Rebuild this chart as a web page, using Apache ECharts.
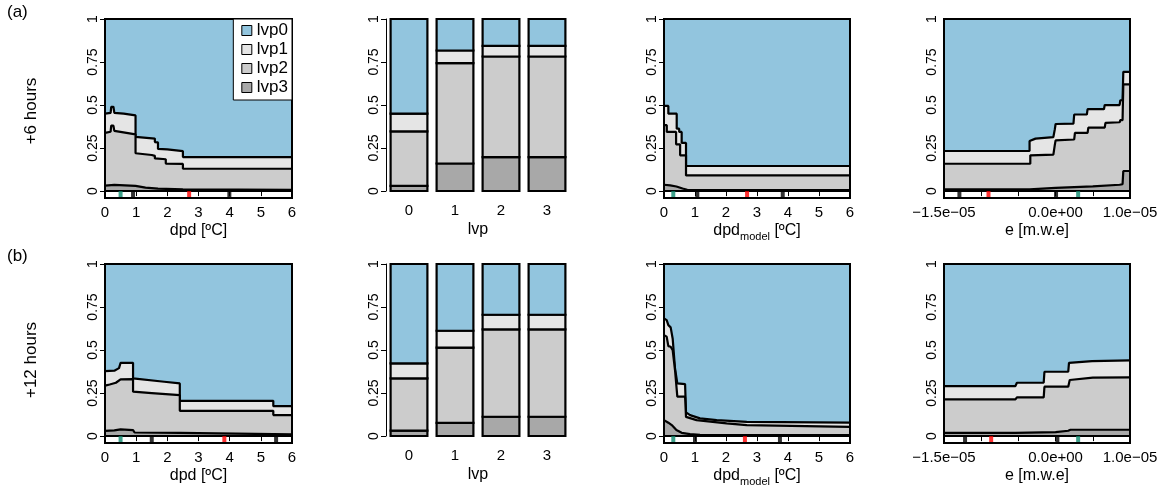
<!DOCTYPE html>
<html><head><meta charset="utf-8">
<script src="https://cdn.jsdelivr.net/npm/echarts@6/dist/echarts.min.js"></script>
<style>html,body{margin:0;padding:0;background:#fff}#c{width:1171px;height:488px}</style>
</head><body><div id="c"></div>
<script>
// ---------------- DATA ----------------
// Cumulative class boundaries (bottom: lvp3, then lvp2, lvp1, top: lvp0)
// cum3 = P(lvp3), cum2 = P(lvp3)+P(lvp2), cum1 = P(lvp3)+P(lvp2)+P(lvp1)
const yTicks = [0, 0.25, 0.5, 0.75, 1];
const lvpCategories = ['0', '1', '2', '3'];
const eTickLabels = ['\u22121.5e\u221205', '', '', '0.0e+00', '', '1.0e\u221205']; // e axis in units of 1e-5

// +6 hours, dpd
const h6_dpd_cum1 = [[0,0.45],[0.18,0.455],[0.2,0.49],[0.27,0.49],[0.3,0.455],[0.6,0.45],[0.98,0.44],[0.98,0.315],[1.6,0.305],[1.6,0.285],[1.7,0.283],[1.7,0.245],[2.0,0.243],[2.0,0.235],[2.5,0.232],[2.5,0.198],[6,0.198]];
const h6_dpd_cum2 = [[0,0.338],[0.18,0.345],[0.2,0.38],[0.27,0.38],[0.3,0.35],[0.98,0.33],[0.98,0.22],[1.5,0.21],[1.6,0.205],[1.6,0.19],[1.95,0.185],[1.95,0.16],[2.5,0.158],[2.5,0.13],[6,0.13]];
const h6_dpd_cum3 = [[0,0.032],[0.3,0.036],[0.98,0.03],[1.3,0.02],[1.7,0.014],[2.5,0.01],[6,0.008]];
const h6_dpd_quant = [0.9, 3.99];
const h6_dpd_mean = [2.7];
const h6_dpd_obs = [0.5];

// +6 hours, lvp (bars)
const h6_lvp_p0 = [0.55, 0.183, 0.156, 0.156];
const h6_lvp_p1 = [0.103, 0.074, 0.062, 0.062];
const h6_lvp_p2 = [0.317, 0.583, 0.585, 0.585];
const h6_lvp_p3 = [0.03, 0.16, 0.197, 0.197];

// +6 hours, dpd_model
const h6_dpdm_cum1 = [[0,0.495],[0.14,0.495],[0.14,0.45],[0.41,0.45],[0.41,0.363],[0.49,0.363],[0.49,0.344],[0.57,0.344],[0.57,0.28],[0.71,0.28],[0.71,0.146],[6,0.146]];
const h6_dpdm_cum2 = [[0,0.383],[0.09,0.383],[0.09,0.344],[0.39,0.344],[0.39,0.272],[0.52,0.272],[0.52,0.208],[0.71,0.208],[0.71,0.091],[6,0.091]];
const h6_dpdm_cum3 = [[0,0.037],[0.2,0.033],[0.4,0.027],[0.6,0.015],[0.75,0.008],[6,0.006]];
const h6_dpdm_quant = [1.075, 3.83];
const h6_dpdm_mean = [2.68];
const h6_dpdm_obs = [0.3];

// +6 hours, e (x in units of 1e-5 m.w.e)
const h6_e_cum1 = [[-1.5,0.233],[-0.35,0.233],[-0.35,0.291],[-0.27,0.305],[-0.27,0.314],[-0.03,0.314],[-0.01,0.36],[0.0,0.39],[0.24,0.392],[0.25,0.445],[0.42,0.445],[0.43,0.476],[0.65,0.476],[0.66,0.5],[0.86,0.5],[0.87,0.528],[0.9,0.528],[0.91,0.693],[1.0,0.693]];
const h6_e_cum2 = [[-1.5,0.159],[-0.34,0.159],[-0.34,0.208],[-0.03,0.212],[-0.01,0.27],[0.0,0.295],[0.25,0.3],[0.26,0.338],[0.43,0.338],[0.44,0.369],[0.66,0.369],[0.67,0.396],[0.86,0.4],[0.87,0.412],[0.9,0.412],[0.91,0.62],[1.0,0.62]];
const h6_e_cum3 = [[-1.5,0.01],[-0.35,0.01],[0.0,0.019],[0.5,0.027],[0.86,0.037],[0.9,0.04],[0.91,0.117],[1.0,0.117]];
const h6_e_quant = [-1.293, 0.006];
const h6_e_mean = [-0.902];
const h6_e_obs = [0.303];

// +12 hours, dpd
const h12_dpd_cum1 = [[0,0.378],[0.3,0.38],[0.45,0.395],[0.5,0.426],[0.9,0.426],[0.9,0.335],[1.9,0.316],[2.4,0.306],[2.4,0.205],[5.4,0.205],[5.4,0.174],[6,0.174]];
const h12_dpd_cum2 = [[0,0.293],[0.15,0.3],[0.35,0.31],[0.5,0.33],[0.9,0.331],[0.9,0.258],[1.5,0.25],[2.4,0.238],[2.4,0.147],[5.4,0.147],[5.4,0.122],[6,0.122]];
const h12_dpd_cum3 = [[0,0.031],[0.3,0.033],[0.5,0.039],[0.9,0.035],[0.95,0.021],[2.4,0.019],[2.45,0.012],[6,0.01]];
const h12_dpd_quant = [1.5, 5.49];
const h12_dpd_mean = [3.83];
const h12_dpd_obs = [0.5];

// +12 hours, lvp (bars)
const h12_lvp_p0 = [0.578, 0.388, 0.295, 0.295];
const h12_lvp_p1 = [0.087, 0.098, 0.085, 0.085];
const h12_lvp_p2 = [0.304, 0.438, 0.508, 0.508];
const h12_lvp_p3 = [0.031, 0.076, 0.112, 0.112];

// +12 hours, dpd_model
const h12_dpdm_cum1 = [[0,0.684],[0.086,0.674],[0.14,0.645],[0.215,0.632],[0.28,0.566],[0.355,0.393],[0.43,0.306],[0.68,0.302],[0.71,0.138],[0.84,0.122],[1.16,0.103],[1.7,0.093],[2.67,0.083],[6,0.078]];
const h12_dpdm_cum2 = [[0,0.587],[0.086,0.578],[0.14,0.523],[0.215,0.519],[0.28,0.5],[0.355,0.384],[0.43,0.229],[0.68,0.229],[0.71,0.112],[1.05,0.093],[2.02,0.074],[2.67,0.064],[6,0.054]];
const h12_dpdm_cum3 = [[0,0.093],[0.14,0.078],[0.25,0.064],[0.4,0.035],[0.57,0.019],[0.84,0.012],[1.16,0.008],[6,0.006]];
const h12_dpdm_quant = [1.0, 3.74];
const h12_dpdm_mean = [2.61];
const h12_dpdm_obs = [0.3];

// +12 hours, e (x in units of 1e-5 m.w.e)
const h12_e_cum1 = [[-1.5,0.291],[-0.54,0.291],[-0.52,0.31],[-0.16,0.31],[-0.15,0.374],[0.17,0.374],[0.18,0.426],[0.49,0.436],[1.0,0.44]];
const h12_e_cum2 = [[-1.5,0.213],[-0.54,0.213],[-0.52,0.225],[-0.16,0.225],[-0.15,0.287],[0.17,0.287],[0.19,0.326],[0.5,0.34],[1.0,0.341]];
const h12_e_cum3 = [[-1.5,0.019],[-0.54,0.019],[-0.52,0.023],[0.0,0.023],[0.02,0.031],[0.17,0.031],[0.2,0.037],[1.0,0.037]];
const h12_e_quant = [-1.217, 0.024];
const h12_e_mean = [-0.866];
const h12_e_obs = [0.303];

// ---------------- STYLE / LAYOUT ----------------
const FONT = '"Liberation Sans", Arial, Helvetica, sans-serif';
const C0 = '#92C5DE', C1 = '#E5E5E5', C2 = '#CCCCCC', C3 = '#A8A8A8';
const RUG_Q = '#000000', RUG_M = '#FF0000', RUG_O = '#0E8A6E';
const COLS = [{left:105,width:187},{left:386,width:184},{left:664,width:186},{left:944,width:186}];
const ROWS = [19, 264];
const AREA_H = 179, BAR_H = 172, YMIN = -0.04;
const LW = 2.2;

const grids = [], xAxes = [], yAxes = [], series = [];

function yAxisCommon(gi, min) {
  return {
    gridIndex: gi, type: 'value', min: min, max: 1,
    axisLine: {show: false},
    axisTick: {show: true, length: 5, customValues: yTicks, lineStyle: {color: '#000', width: 1}},
    axisLabel: {customValues: yTicks, rotate: 90, fontSize: 14, color: '#000', margin: 5, fontFamily: FONT},
    splitLine: {show: false}
  };
}

function addArea(rowTop, col, xr, xName, nameRich, cum1, cum2, cum3, quant, mean, obs, tickLabels) {
  const gi = grids.length;
  grids.push({left: col.left, top: rowTop, width: col.width, height: AREA_H, show: true,
    borderColor: '#000', borderWidth: 2, backgroundColor: 'rgba(0,0,0,0)', z: 10});
  const xa = {
    gridIndex: gi, type: 'value', min: xr[0], max: xr[1], interval: xr[2],
    axisLine: {show: false},
    axisTick: {show: true, length: 5, lineStyle: {color: '#000', width: 1}},
    splitLine: {show: false},
    axisLabel: {fontSize: 15, color: '#000', margin: 7, showMinLabel: true, showMaxLabel: true, fontFamily: FONT},
    name: xName, nameLocation: 'middle', nameGap: 25,
    nameTextStyle: {fontSize: 16, color: '#000', fontFamily: FONT}
  };
  if (tickLabels) xa.axisLabel.formatter = (v, i) => tickLabels[i] || '';
  if (nameRich) xa.nameTextStyle.rich = nameRich;
  xAxes.push(xa);
  yAxes.push(yAxisCommon(gi, YMIN));
  const base = {type: 'line', xAxisIndex: gi, yAxisIndex: gi, showSymbol: false, symbol: 'none',
    silent: true, animation: false};
  series.push(Object.assign({}, base, {name: 'lvp0', data: [[xr[0], 1], [xr[1], 1]],
    lineStyle: {width: 0}, areaStyle: {color: C0, opacity: 1, origin: 0}, z: 1}));
  series.push(Object.assign({}, base, {name: 'lvp1', data: cum1,
    lineStyle: {width: LW, color: '#000'}, areaStyle: {color: C1, opacity: 1, origin: 0}, z: 2}));
  series.push(Object.assign({}, base, {name: 'lvp2', data: cum2,
    lineStyle: {width: LW, color: '#000'}, areaStyle: {color: C2, opacity: 1, origin: 0}, z: 3}));
  series.push(Object.assign({}, base, {name: 'lvp3', data: cum3,
    lineStyle: {width: LW, color: '#000'}, areaStyle: {color: C3, opacity: 1, origin: 0}, z: 4,
    markLine: {silent: true, symbol: 'none', animation: false, label: {show: false},
      lineStyle: {color: '#000', width: 2, type: 'solid'}, data: [{yAxis: 0}]}}));
  const rugY = YMIN / 2;
  [[quant, RUG_Q], [mean, RUG_M], [obs, RUG_O]].forEach(([arr, col]) => {
    series.push({type: 'scatter', xAxisIndex: gi, yAxisIndex: gi, silent: true, animation: false,
      symbol: 'rect', symbolSize: [4, 7], itemStyle: {color: col}, z: 6,
      data: arr.map(v => [v, rugY])});
  });
}

function addBars(rowTop, col, p0, p1, p2, p3) {
  const gi = grids.length;
  grids.push({left: col.left, top: rowTop, width: col.width, height: BAR_H});
  xAxes.push({gridIndex: gi, type: 'category', data: lvpCategories,
    axisLine: {show: false}, axisTick: {show: false},
    axisLabel: {fontSize: 15, color: '#000', margin: 12, fontFamily: FONT},
    name: 'lvp', nameLocation: 'middle', nameGap: 31,
    nameTextStyle: {fontSize: 16, color: '#000', fontFamily: FONT}});
  const ya = yAxisCommon(gi, 0);
  ya.axisLine = {show: true, lineStyle: {color: '#000', width: 1}};
  yAxes.push(ya);
  const fills = [C3, C2, C1, C0];
  series.push({type: 'custom', name: 'lvp bars', xAxisIndex: gi, yAxisIndex: gi, silent: true, animation: false,
    data: lvpCategories.map((c, i) => [i, p3[i], p2[i], p1[i], p0[i]]),
    encode: {x: 0, y: [1, 2, 3, 4]},
    renderItem: (params, api) => {
      const idx = api.value(0);
      const bw = api.size([1, 0])[0] * 0.8;
      const children = [];
      let lo = 0;
      for (let k = 0; k < 4; k++) {
        const hi = lo + api.value(k + 1);
        const pLo = api.coord([idx, lo]);
        const pHi = api.coord([idx, hi]);
        children.push({type: 'rect',
          shape: {x: pLo[0] - bw / 2, y: pHi[1], width: bw, height: pLo[1] - pHi[1]},
          style: {fill: fills[k], stroke: '#000', lineWidth: LW}});
        lo = hi;
      }
      return {type: 'group', children: children};
    }});
}

const dpdName = 'dpd [\u00baC]';
const dpdmName = '{n|dpd}{s|model}{n| [\u00baC]}';
const dpdmRich = {n: {fontSize: 16, fontFamily: FONT, color: '#000', verticalAlign: 'top', lineHeight: 18},
                  s: {fontSize: 11, fontFamily: FONT, color: '#000', verticalAlign: 'top', lineHeight: 11, padding: [8, 0, 0, 0]}};
const eName = 'e [m.w.e]';

const rowData = [
  {top: ROWS[0], dpd: [h6_dpd_cum1, h6_dpd_cum2, h6_dpd_cum3, h6_dpd_quant, h6_dpd_mean, h6_dpd_obs],
   lvp: [h6_lvp_p0, h6_lvp_p1, h6_lvp_p2, h6_lvp_p3],
   dpdm: [h6_dpdm_cum1, h6_dpdm_cum2, h6_dpdm_cum3, h6_dpdm_quant, h6_dpdm_mean, h6_dpdm_obs],
   e: [h6_e_cum1, h6_e_cum2, h6_e_cum3, h6_e_quant, h6_e_mean, h6_e_obs]},
  {top: ROWS[1], dpd: [h12_dpd_cum1, h12_dpd_cum2, h12_dpd_cum3, h12_dpd_quant, h12_dpd_mean, h12_dpd_obs],
   lvp: [h12_lvp_p0, h12_lvp_p1, h12_lvp_p2, h12_lvp_p3],
   dpdm: [h12_dpdm_cum1, h12_dpdm_cum2, h12_dpdm_cum3, h12_dpdm_quant, h12_dpdm_mean, h12_dpdm_obs],
   e: [h12_e_cum1, h12_e_cum2, h12_e_cum3, h12_e_quant, h12_e_mean, h12_e_obs]}
];
rowData.forEach(r => {
  addArea(r.top, COLS[0], [0, 6, 1], dpdName, null, ...r.dpd, null);
  addBars(r.top, COLS[1], ...r.lvp);
  addArea(r.top, COLS[2], [0, 6, 1], dpdmName, dpdmRich, ...r.dpdm, null);
  addArea(r.top, COLS[3], [-1.5, 1.0, 0.5], eName, null, ...r.e, eTickLabels);
});

const legendItems = [['lvp0', C0], ['lvp1', C1], ['lvp2', C2], ['lvp3', C3]].map(([n, c]) =>
  ({name: n, itemStyle: {color: c, borderColor: '#000', borderWidth: 1}}));

const option = {
  animation: false,
  backgroundColor: '#fff',
  textStyle: {fontFamily: FONT},
  grid: grids, xAxis: xAxes, yAxis: yAxes, series: series,
  legend: {orient: 'vertical', right: 1171 - 292, top: 19, icon: 'rect', itemWidth: 10, itemHeight: 10,
    itemGap: 2, selectedMode: false, backgroundColor: '#fff', borderColor: '#000', borderWidth: 1,
    padding: [3, 4, 4, 8], z: 20,
    textStyle: {fontSize: 17, color: '#000', fontFamily: FONT, lineHeight: 17},
    data: legendItems},
  graphic: [
    {type: 'text', x: 7, y: 4, style: {text: '(a)', fontSize: 17, fontFamily: FONT, fill: '#000'}},
    {type: 'text', x: 7, y: 248, style: {text: '(b)', fontSize: 17, fontFamily: FONT, fill: '#000'}},
    {type: 'text', x: 31, y: 111, rotation: Math.PI / 2,
     style: {text: '+6 hours', fontSize: 17, fontFamily: FONT, fill: '#000', align: 'center', verticalAlign: 'middle', textAlign: 'center', textVerticalAlign: 'middle'}},
    {type: 'text', x: 31, y: 360, rotation: Math.PI / 2,
     style: {text: '+12 hours', fontSize: 17, fontFamily: FONT, fill: '#000', align: 'center', verticalAlign: 'middle', textAlign: 'center', textVerticalAlign: 'middle'}}
  ]
};
const chart = echarts.init(document.getElementById('c'), null, {renderer: 'canvas'});
chart.setOption(option);
</script>
</body></html>
